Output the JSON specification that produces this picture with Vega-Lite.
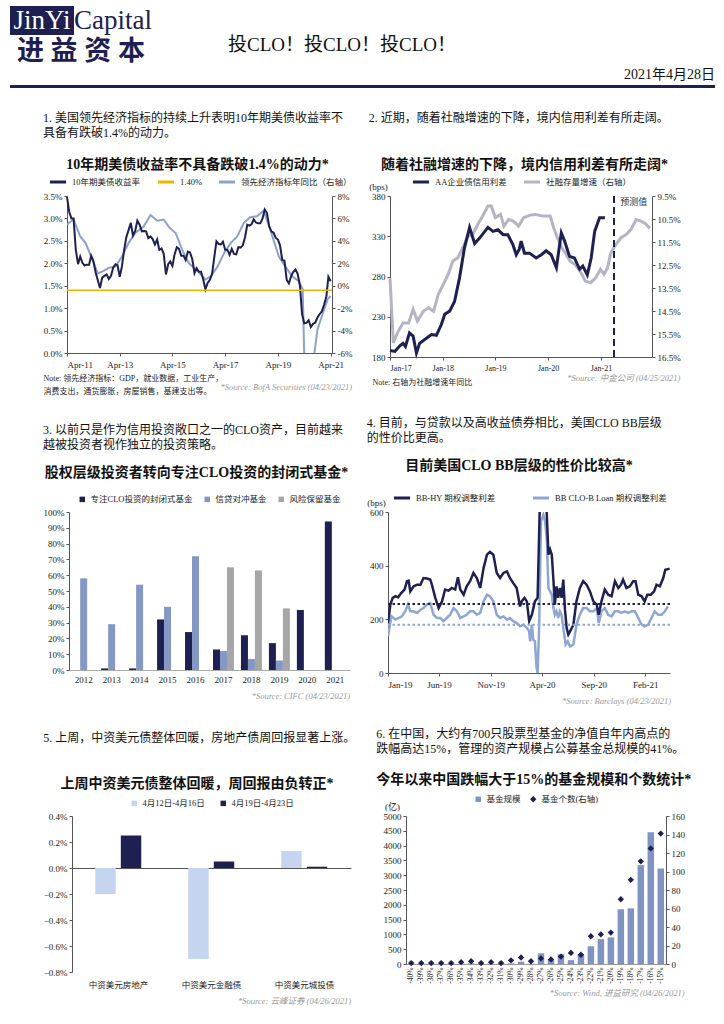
{
"$schema": "https://vega.github.io/schema/vega-lite/v6.json",
"background": "white",
"padding": {"left": 10, "top": 6, "right": 0, "bottom": 0},
"spacing": 24,
"resolve": {"scale": {"color": "independent", "shape": "independent", "xOffset": "independent"}, "legend": {"color": "independent", "shape": "independent"}},
"config": {
  "font": "Liberation Serif, Noto Sans CJK SC",
  "view": {"stroke": null},
  "axis": {"grid": false, "labelFontSize": 9, "labelColor": "#222", "domainColor": "#555", "tickColor": "#555", "tickSize": 3, "labelPadding": 2, "titleFontWeight": "normal", "titleFontSize": 9, "titleColor": "#222"},
  "legend": {"orient": "top", "direction": "horizontal", "labelFontSize": 8.5, "labelColor": "#222", "symbolSize": 45, "columnPadding": 10, "padding": 0, "offset": 8, "layout": {"top": {"anchor": "middle"}}},
  "title": {"color": "#111", "fontWeight": "normal"}
},
"vconcat": [
  {"spacing": 2, "vconcat": [
    {"spacing": 0, "hconcat": [
      {"spacing": 3, "vconcat": [
        {"spacing": 0, "hconcat": [
          {"width": 64, "height": 29, "data": {"values": [{"t": "JinYi"}]}, "layer": [
            {"mark": {"type": "rect", "color": "#1d2050"}, "encoding": {}},
            {"mark": {"type": "text", "color": "white", "fontSize": 27, "font": "Liberation Serif"}, "encoding": {"text": {"field": "t"}}}
          ]},
          {"width": 78, "height": 29, "data": {"values": [{"t": "Capital"}]}, "mark": {"type": "text", "color": "#1d2050", "fontSize": 27, "font": "Liberation Serif"}, "encoding": {"text": {"field": "t"}}}
        ]},
        {"width": 142, "height": 28, "data": {"values": [{"t": "进 益 资 本"}]}, "mark": {"type": "text", "color": "#1d2050", "fontSize": 27, "fontWeight": "bold"}, "encoding": {"text": {"field": "t"}}}
      ]},
      {"width": 380, "height": 60, "data": {"values": [{"t": "投CLO！投CLO！投CLO！"}]}, "mark": {"type": "text", "color": "#111", "fontSize": 19, "baseline": "top"}, "encoding": {"text": {"field": "t"}}}
    ]},
    {"width": 705, "height": 3, "data": {"values": [{}]}, "mark": {"type": "rect", "color": "#1d2050"}, "encoding": {}, "title": {"text": "2021年4月28日", "anchor": "end", "fontSize": 14, "offset": 3}}
  ]},
  {"spacing": 22,
   "resolve": {"scale": {"color": "independent", "shape": "independent", "xOffset": "independent"}, "legend": {"color": "independent", "shape": "independent"}},
   "vconcat": [
  {"spacing": 16,
   "resolve": {"scale": {"color": "independent", "shape": "independent", "xOffset": "independent"}, "legend": {"color": "independent", "shape": "independent"}},
   "hconcat": [
    {"width": 17, "height": 10, "data": {"values": []}, "mark": "point", "encoding": {}},
    {"title": {"text": ["1. 美国领先经济指标的持续上升表明10年期美债收益率不", "具备有跌破1.4%的动力。"], "anchor": "start", "fontSize": 12, "lineHeight": 15, "offset": 18},
     "resolve": {"scale": {"color": "independent"}, "legend": {"color": "independent"}},
     "vconcat": [{
      "title": {"text": "10年期美债收益率不具备跌破1.4%的动力*", "anchor": "middle", "fontSize": 14, "fontWeight": "bold", "offset": 0},
      "resolve": {"scale": {"color": "independent"}, "legend": {"color": "independent"}},
      "vconcat": [{
        "width": 265, "height": 157,
        "title": {"text": "*Source: BofA Securities (04/23/2021)", "orient": "bottom", "anchor": "end", "fontSize": 8.5, "fontStyle": "italic", "color": "#9a9a9a", "offset": -12},
        "resolve": {"scale": {"y": "independent"}},
        "layer": [
          {"data": {"values": [
            {"d":"2011-04-01","v":5.47},{"d":"2011-07-01","v":5.9},{"d":"2011-10-01","v":4.4},{"d":"2011-12-15","v":3.8},{"d":"2012-03-01","v":2.6},{"d":"2012-06-01","v":1.1},{"d":"2012-08-15","v":1.3},{"d":"2012-11-01","v":1.6},{"d":"2013-02-01","v":1.7},{"d":"2013-05-01","v":2.6},{"d":"2013-08-01","v":3.8},{"d":"2013-11-01","v":4.7},{"d":"2014-03-01","v":5.3},{"d":"2014-06-01","v":6.3},{"d":"2014-09-01","v":5.8},{"d":"2014-12-01","v":5.9},{"d":"2015-02-15","v":5.2},{"d":"2015-05-15","v":4.7},{"d":"2015-08-15","v":3.2},{"d":"2015-11-15","v":2.0},{"d":"2016-03-15","v":1.3},{"d":"2016-07-01","v":0.55},{"d":"2016-09-15","v":0.85},{"d":"2016-12-15","v":1.7},{"d":"2017-03-15","v":2.9},{"d":"2017-06-15","v":3.8},{"d":"2017-09-15","v":4.4},{"d":"2017-12-15","v":5.6},{"d":"2018-03-15","v":6.1},{"d":"2018-06-15","v":6.2},{"d":"2018-09-15","v":6.7},{"d":"2018-11-15","v":5.6},{"d":"2019-01-15","v":4.4},{"d":"2019-04-15","v":2.6},{"d":"2019-07-15","v":1.7},{"d":"2019-10-15","v":0.85},{"d":"2020-01-15","v":0.4},{"d":"2020-03-10","v":-0.3},{"d":"2020-04-10","v":-9},{"d":"2020-06-15","v":-10},{"d":"2020-08-15","v":-6.2},{"d":"2020-10-01","v":-3.9},{"d":"2020-12-01","v":-2.7},{"d":"2021-02-20","v":-1.2},{"d":"2021-04-01","v":-0.9}
          ]},
           "mark": {"type": "line", "strokeWidth": 2, "clip": true},
           "encoding": {
             "x": {"field": "d", "type": "temporal"},
             "y": {"field": "v", "type": "quantitative", "scale": {"domain": [-6, 8]}, "axis": {"orient": "right", "values": [-6,-4,-2,0,2,4,6,8], "labelExpr": "datum.value + '%'", "title": null}},
             "color": {"datum": "领先经济指标年同比（右轴）"}
           }},
          {"data": {"values": [
            {"d":"2011-04-01","v":3.48},{"d":"2011-05-01","v":3.15},{"d":"2011-06-01","v":3.0},{"d":"2011-07-01","v":3.0},{"d":"2011-08-01","v":2.3},{"d":"2011-09-01","v":1.98},{"d":"2011-10-01","v":2.15},{"d":"2011-11-01","v":2.01},{"d":"2011-12-01","v":1.95},
            {"d":"2012-01-01","v":1.97},{"d":"2012-02-01","v":1.97},{"d":"2012-03-01","v":2.17},{"d":"2012-04-01","v":2.05},{"d":"2012-05-01","v":1.8},{"d":"2012-06-01","v":1.62},{"d":"2012-07-01","v":1.45},{"d":"2012-08-01","v":1.68},{"d":"2012-09-01","v":1.72},{"d":"2012-10-01","v":1.75},{"d":"2012-11-01","v":1.65},{"d":"2012-12-01","v":1.72},
            {"d":"2013-01-01","v":1.91},{"d":"2013-02-01","v":1.98},{"d":"2013-03-01","v":1.96},{"d":"2013-04-01","v":1.7},{"d":"2013-05-01","v":1.93},{"d":"2013-06-01","v":2.3},{"d":"2013-07-01","v":2.58},{"d":"2013-08-01","v":2.74},{"d":"2013-09-01","v":2.9},{"d":"2013-10-01","v":2.62},{"d":"2013-11-01","v":2.72},{"d":"2013-12-01","v":2.95},
            {"d":"2014-01-01","v":2.86},{"d":"2014-02-01","v":2.71},{"d":"2014-03-01","v":2.72},{"d":"2014-04-01","v":2.71},{"d":"2014-05-01","v":2.56},{"d":"2014-06-01","v":2.6},{"d":"2014-07-01","v":2.54},{"d":"2014-08-01","v":2.42},{"d":"2014-09-01","v":2.53},{"d":"2014-10-01","v":2.3},{"d":"2014-11-01","v":2.33},{"d":"2014-12-01","v":2.21},
            {"d":"2015-01-01","v":1.75},{"d":"2015-02-01","v":1.98},{"d":"2015-03-01","v":2.04},{"d":"2015-04-01","v":1.94},{"d":"2015-05-01","v":2.2},{"d":"2015-06-01","v":2.36},{"d":"2015-07-01","v":2.32},{"d":"2015-08-01","v":2.17},{"d":"2015-09-01","v":2.17},{"d":"2015-10-01","v":2.07},{"d":"2015-11-01","v":2.26},{"d":"2015-12-01","v":2.24},
            {"d":"2016-01-01","v":2.09},{"d":"2016-02-01","v":1.78},{"d":"2016-03-01","v":1.89},{"d":"2016-04-01","v":1.81},{"d":"2016-05-01","v":1.81},{"d":"2016-06-01","v":1.64},{"d":"2016-07-01","v":1.42},{"d":"2016-08-01","v":1.56},{"d":"2016-09-01","v":1.63},{"d":"2016-10-01","v":1.76},{"d":"2016-11-01","v":2.14},{"d":"2016-12-01","v":2.49},
            {"d":"2017-01-01","v":2.43},{"d":"2017-02-01","v":2.42},{"d":"2017-03-01","v":2.48},{"d":"2017-04-01","v":2.3},{"d":"2017-05-01","v":2.3},{"d":"2017-06-01","v":2.19},{"d":"2017-07-01","v":2.32},{"d":"2017-08-01","v":2.21},{"d":"2017-09-01","v":2.2},{"d":"2017-10-01","v":2.36},{"d":"2017-11-01","v":2.35},{"d":"2017-12-01","v":2.4},
            {"d":"2018-01-01","v":2.58},{"d":"2018-02-01","v":2.86},{"d":"2018-03-01","v":2.84},{"d":"2018-04-01","v":2.87},{"d":"2018-05-01","v":2.98},{"d":"2018-06-01","v":2.91},{"d":"2018-07-01","v":2.89},{"d":"2018-08-01","v":2.89},{"d":"2018-09-01","v":3.0},{"d":"2018-10-01","v":3.2},{"d":"2018-11-01","v":3.12},{"d":"2018-12-01","v":2.83},
            {"d":"2019-01-01","v":2.71},{"d":"2019-02-01","v":2.68},{"d":"2019-03-01","v":2.57},{"d":"2019-04-01","v":2.53},{"d":"2019-05-01","v":2.4},{"d":"2019-06-01","v":2.07},{"d":"2019-07-01","v":2.06},{"d":"2019-08-01","v":1.63},{"d":"2019-09-01","v":1.55},{"d":"2019-10-01","v":1.71},{"d":"2019-11-01","v":1.81},{"d":"2019-12-01","v":1.86},
            {"d":"2020-01-01","v":1.76},{"d":"2020-02-01","v":1.5},{"d":"2020-03-01","v":0.87},{"d":"2020-04-01","v":0.66},{"d":"2020-05-01","v":0.67},{"d":"2020-06-01","v":0.73},{"d":"2020-07-01","v":0.58},{"d":"2020-08-01","v":0.65},{"d":"2020-09-01","v":0.68},{"d":"2020-10-01","v":0.79},{"d":"2020-11-01","v":0.87},{"d":"2020-12-01","v":0.93},
            {"d":"2021-01-01","v":1.08},{"d":"2021-02-01","v":1.26},{"d":"2021-03-01","v":1.7},{"d":"2021-04-01","v":1.6}
          ]},
           "mark": {"type": "line", "strokeWidth": 2},
           "encoding": {
             "x": {"field": "d", "type": "temporal", "scale": {"domain": [{"year": 2011, "month": 4, "date": 1}, {"year": 2021, "month": 4, "date": 20}]},
                   "axis": {"values": [{"year": 2011, "month": 4, "date": 1}, {"year": 2013, "month": 4, "date": 1}, {"year": 2015, "month": 4, "date": 1}, {"year": 2017, "month": 4, "date": 1}, {"year": 2019, "month": 4, "date": 1}, {"year": 2021, "month": 4, "date": 1}],
                            "format": "%b-%y", "labelPadding": 4, "title": ["Note: 领先经济指标：GDP，就业数据，工业生产，", "消费支出，通货膨胀，房屋销售，基建支出等。"], "titleX": -24, "titleAlign": "left", "titleAnchor": "start", "titleFontSize": 8, "titleLineHeight": 13, "titlePadding": 5}},
             "y": {"field": "v", "type": "quantitative", "scale": {"domain": [0, 3.5]}, "axis": {"orient": "left", "values": [0, 0.5, 1, 1.5, 2, 2.5, 3, 3.5], "labelExpr": "format(datum.value, '.1f') + '%'", "title": null}},
             "color": {"datum": "10年期美债收益率", "scale": {"domain": ["10年期美债收益率", "1.40%", "领先经济指标年同比（右轴）"], "range": ["#1d2050", "#f0b400", "#8ca2cb"]}, "legend": {"title": null, "symbolType": "stroke", "symbolStrokeWidth": 3, "symbolSize": 260}}
           }},
          {"data": {"values": [{}]}, "mark": {"type": "rule", "strokeWidth": 1.5}, "encoding": {"y": {"datum": 1.4, "scale": {"domain": [0, 3.5]}, "axis": null}, "color": {"datum": "1.40%"}}}
        ]
      }]
     }]
    },
    {"title": {"text": ["2. 近期，随着社融增速的下降，境内信用利差有所走阔。", " "], "anchor": "start", "fontSize": 12, "lineHeight": 15, "offset": 18},
     "resolve": {"scale": {"color": "independent"}, "legend": {"color": "independent"}},
     "vconcat": [{
      "title": {"text": "随着社融增速的下降，境内信用利差有所走阔*", "anchor": "middle", "fontSize": 14, "fontWeight": "bold", "offset": 0},
      "resolve": {"scale": {"color": "independent"}, "legend": {"color": "independent"}},
      "vconcat": [{
        "width": 262, "height": 161,
        "title": {"text": "*Source: 中金公司 (04/25/2021)", "orient": "bottom", "anchor": "end", "fontSize": 8.5, "fontStyle": "italic", "color": "#9a9a9a", "offset": -12},
        "resolve": {"scale": {"y": "independent"}},
        "layer": [
          {"data": {"values": [
            {"d":"2017-01-01","v":13.06},{"d":"2017-01-24","v":15.89},{"d":"2017-02-27","v":15.38},{"d":"2017-04-01","v":15.02},{"d":"2017-05-10","v":15.02},{"d":"2017-06-10","v":14.43},{"d":"2017-07-10","v":14.94},{"d":"2017-08-20","v":14.51},{"d":"2017-09-25","v":14.36},{"d":"2017-10-30","v":14.51},{"d":"2017-12-01","v":13.78},
            {"d":"2018-01-05","v":13.35},{"d":"2018-02-08","v":12.91},{"d":"2018-03-12","v":12.33},{"d":"2018-04-15","v":12.19},{"d":"2018-05-20","v":11.75},{"d":"2018-06-25","v":11.24},{"d":"2018-07-28","v":11.17},{"d":"2018-09-01","v":10.73},{"d":"2018-10-05","v":10.37},{"d":"2018-11-10","v":9.94},{"d":"2018-12-03","v":9.94},
            {"d":"2019-01-01","v":10.44},{"d":"2019-02-05","v":10.3},{"d":"2019-03-01","v":10.81},{"d":"2019-04-03","v":10.52},{"d":"2019-05-05","v":10.59},{"d":"2019-06-10","v":10.81},{"d":"2019-07-15","v":10.44},{"d":"2019-08-30","v":10.33},{"d":"2019-10-05","v":10.3},{"d":"2019-11-20","v":10.37},
            {"d":"2020-01-15","v":10.37},{"d":"2020-02-08","v":10.88},{"d":"2020-03-05","v":11.31},{"d":"2020-04-05","v":11.75},{"d":"2020-04-28","v":11.97},{"d":"2020-06-01","v":12.33},{"d":"2020-07-05","v":12.48},{"d":"2020-08-10","v":12.77},{"d":"2020-09-15","v":13.2},{"d":"2020-10-20","v":13.27},{"d":"2020-11-25","v":13.06},{"d":"2020-12-28","v":12.69},
            {"d":"2021-01-22","v":12.91},{"d":"2021-02-15","v":12.62},{"d":"2021-03-10","v":11.97},{"d":"2021-04-15","v":11.6},{"d":"2021-05-20","v":11.31},{"d":"2021-06-25","v":11.17},{"d":"2021-07-28","v":10.95},{"d":"2021-09-01","v":10.52},{"d":"2021-10-05","v":10.59},{"d":"2021-11-05","v":10.7},{"d":"2021-12-05","v":10.91}
          ]},
           "mark": {"type": "line", "strokeWidth": 3},
           "encoding": {
             "x": {"field": "d", "type": "temporal", "scale": {"domain": [{"year": 2017, "month": 1, "date": 1}, {"year": 2021, "month": 12, "date": 20}]},
                   "axis": {"values": [{"year": 2017, "month": 1, "date": 1}, {"year": 2017, "month": 7, "date": 1}, {"year": 2018, "month": 1, "date": 1}, {"year": 2018, "month": 7, "date": 1}, {"year": 2019, "month": 1, "date": 1}, {"year": 2019, "month": 7, "date": 1}, {"year": 2020, "month": 1, "date": 1}, {"year": 2020, "month": 7, "date": 1}, {"year": 2021, "month": 1, "date": 1}, {"year": 2021, "month": 7, "date": 1}],
                            "format": "%b-%y", "labelPadding": 4, "labelFontSize": 8, "labelOverlap": false, "title": "Note: 右轴为社融增速年同比", "titleX": -18, "titleAlign": "left", "titleAnchor": "start", "titleFontSize": 8, "titlePadding": 6}},
             "y": {"field": "v", "type": "quantitative", "scale": {"domain": [9.5, 16.5], "reverse": true}, "axis": {"orient": "right", "values": [9.5, 10.5, 11.5, 12.5, 13.5, 14.5, 15.5, 16.5], "labelExpr": "format(datum.value, '.1f') + '%'", "title": null}},
             "color": {"datum": "社融存量增速（右轴）", "scale": {"domain": ["AA企业债信用利差", "社融存量增速（右轴）"], "range": ["#1d2050", "#b4b4c4"]}, "legend": {"title": null, "symbolType": "stroke", "symbolStrokeWidth": 3, "symbolSize": 260}}
           }},
          {"data": {"values": [
            {"d":"2017-01-01","v":188},{"d":"2017-02-04","v":187},{"d":"2017-03-10","v":194},{"d":"2017-04-01","v":197},{"d":"2017-04-18","v":193},{"d":"2017-05-16","v":210},{"d":"2017-06-10","v":206},{"d":"2017-07-03","v":185},{"d":"2017-07-25","v":197},{"d":"2017-09-01","v":202},{"d":"2017-10-15","v":208},{"d":"2017-11-18","v":207},{"d":"2017-12-22","v":220},
            {"d":"2018-01-15","v":233},{"d":"2018-02-18","v":237},{"d":"2018-03-24","v":249},{"d":"2018-04-27","v":278},{"d":"2018-06-01","v":316},{"d":"2018-07-06","v":341},{"d":"2018-08-10","v":321},{"d":"2018-09-15","v":328},{"d":"2018-11-10","v":341},{"d":"2018-12-15","v":336},
            {"d":"2019-01-18","v":338},{"d":"2019-02-24","v":332},{"d":"2019-03-28","v":332},{"d":"2019-05-01","v":320},{"d":"2019-05-25","v":307},{"d":"2019-06-15","v":314},{"d":"2019-06-28","v":324},{"d":"2019-07-21","v":309},{"d":"2019-08-25","v":309},{"d":"2019-10-10","v":303},{"d":"2019-11-15","v":307},{"d":"2019-12-18","v":312},
            {"d":"2020-01-22","v":307},{"d":"2020-02-27","v":291},{"d":"2020-04-01","v":334},{"d":"2020-04-24","v":324},{"d":"2020-05-28","v":305},{"d":"2020-07-01","v":303},{"d":"2020-08-06","v":289},{"d":"2020-08-28","v":293},{"d":"2020-09-28","v":282},{"d":"2020-10-25","v":303},{"d":"2020-11-18","v":336},{"d":"2020-12-22","v":353},{"d":"2021-01-28","v":353}
          ]},
           "mark": {"type": "line", "strokeWidth": 3},
           "encoding": {
             "x": {"field": "d", "type": "temporal"},
             "y": {"field": "v", "type": "quantitative", "scale": {"domain": [180, 380]}, "axis": {"orient": "left", "values": [180, 230, 280, 330, 380], "title": "(bps)", "titleAngle": 0, "titleX": -12, "titleY": -5, "titleAlign": "center", "titleBaseline": "bottom", "titleFontSize": 9}},
             "color": {"datum": "AA企业债信用利差"}
           }},
          {"data": {"values": [{}]}, "mark": {"type": "rule", "color": "#1d2050", "strokeWidth": 2, "strokeDash": [7, 4]}, "encoding": {"x": {"datum": {"year": 2021, "month": 4, "date": 1}, "type": "temporal"}}},
          {"data": {"values": [{"t": "预测值"}]}, "mark": {"type": "text", "fontSize": 9, "color": "#333"}, "encoding": {"x": {"datum": {"year": 2021, "month": 8, "date": 15}, "type": "temporal"}, "y": {"datum": 372, "scale": {"domain": [180, 380]}, "axis": null}, "text": {"field": "t"}}}
        ]
      }]
     }]
    }
  ]},
  {"spacing": 16,
   "resolve": {"scale": {"color": "independent", "shape": "independent", "xOffset": "independent"}, "legend": {"color": "independent", "shape": "independent"}},
   "hconcat": [
    {"width": 17, "height": 10, "data": {"values": []}, "mark": "point", "encoding": {}},
    {"title": {"text": ["3. 以前只是作为信用投资敞口之一的CLO资产，目前越来", "越被投资者视作独立的投资策略。"], "anchor": "start", "fontSize": 12, "lineHeight": 15, "offset": 14},
     "resolve": {"scale": {"color": "independent", "xOffset": "independent"}, "legend": {"color": "independent"}},
     "vconcat": [{
      "title": {"text": "股权层级投资者转向专注CLO投资的封闭式基金*", "anchor": "middle", "fontSize": 14, "fontWeight": "bold", "offset": 15},
      "resolve": {"scale": {"color": "independent", "xOffset": "independent"}, "legend": {"color": "independent"}},
      "vconcat": [{
        "width": 281, "height": 158,
        "title": {"text": "*Source: CIFC (04/23/2021)", "orient": "bottom", "anchor": "end", "fontSize": 8.5, "fontStyle": "italic", "color": "#9a9a9a", "offset": 8},
        "data": {"values": [
          {"yr":"2012","s":"专注CLO投资的封闭式基金","v":0},{"yr":"2012","s":"信贷对冲基金","v":58},{"yr":"2012","s":"风险保留基金","v":0},
          {"yr":"2013","s":"专注CLO投资的封闭式基金","v":1},{"yr":"2013","s":"信贷对冲基金","v":29},{"yr":"2013","s":"风险保留基金","v":0},
          {"yr":"2014","s":"专注CLO投资的封闭式基金","v":1},{"yr":"2014","s":"信贷对冲基金","v":54},{"yr":"2014","s":"风险保留基金","v":0},
          {"yr":"2015","s":"专注CLO投资的封闭式基金","v":32},{"yr":"2015","s":"信贷对冲基金","v":40},{"yr":"2015","s":"风险保留基金","v":0},
          {"yr":"2016","s":"专注CLO投资的封闭式基金","v":24},{"yr":"2016","s":"信贷对冲基金","v":72},{"yr":"2016","s":"风险保留基金","v":0},
          {"yr":"2017","s":"专注CLO投资的封闭式基金","v":13},{"yr":"2017","s":"信贷对冲基金","v":12},{"yr":"2017","s":"风险保留基金","v":65},
          {"yr":"2018","s":"专注CLO投资的封闭式基金","v":22},{"yr":"2018","s":"信贷对冲基金","v":7},{"yr":"2018","s":"风险保留基金","v":63},
          {"yr":"2019","s":"专注CLO投资的封闭式基金","v":17},{"yr":"2019","s":"信贷对冲基金","v":6},{"yr":"2019","s":"风险保留基金","v":39},
          {"yr":"2020","s":"专注CLO投资的封闭式基金","v":38},{"yr":"2020","s":"信贷对冲基金","v":0},{"yr":"2020","s":"风险保留基金","v":0},
          {"yr":"2021","s":"专注CLO投资的封闭式基金","v":94},{"yr":"2021","s":"信贷对冲基金","v":0},{"yr":"2021","s":"风险保留基金","v":0}
        ]},
        "mark": {"type": "bar"},
        "encoding": {
          "x": {"field": "yr", "type": "ordinal", "scale": {"paddingInner": 0.25, "paddingOuter": 0.15}, "axis": {"labelAngle": 0, "title": null, "ticks": false, "labelPadding": 5, "domainColor": "#aaa"}},
          "xOffset": {"field": "s", "sort": ["专注CLO投资的封闭式基金", "信贷对冲基金", "风险保留基金"]},
          "y": {"field": "v", "type": "quantitative", "scale": {"domain": [0, 100]}, "axis": {"values": [0,10,20,30,40,50,60,70,80,90,100], "labelExpr": "datum.value + '%'", "title": null}},
          "color": {"field": "s", "type": "nominal", "scale": {"domain": ["专注CLO投资的封闭式基金", "信贷对冲基金", "风险保留基金"], "range": ["#1d2050", "#8497c5", "#a6a6a6"]}, "legend": {"title": null, "symbolType": "square", "symbolSize": 30}}
        }
      }]
     }]
    },
    {"title": {"text": ["4. 目前，与贷款以及高收益债券相比，美国CLO BB层级", "的性价比更高。"], "anchor": "start", "fontSize": 12, "lineHeight": 15, "offset": 14},
     "resolve": {"scale": {"color": "independent"}, "legend": {"color": "independent"}},
     "vconcat": [{
      "title": {"text": "目前美国CLO BB层级的性价比较高*", "anchor": "middle", "fontSize": 14, "fontWeight": "bold", "offset": 15},
      "resolve": {"scale": {"color": "independent"}, "legend": {"color": "independent"}},
      "vconcat": [{
        "width": 282, "height": 161,
        "title": {"text": "*Source: Barclays (04/23/2021)", "orient": "bottom", "anchor": "end", "fontSize": 8.5, "fontStyle": "italic", "color": "#9a9a9a", "offset": 8},
        "layer": [
          {"data": {"values": [
            {"d":"2019-01-01","v":137},{"d":"2019-01-11","v":211},{"d":"2019-01-23","v":199},{"d":"2019-02-02","v":205},{"d":"2019-02-11","v":211},{"d":"2019-02-21","v":230},{"d":"2019-03-01","v":255},{"d":"2019-03-08","v":230},{"d":"2019-03-18","v":230},{"d":"2019-03-28","v":224},{"d":"2019-04-07","v":236},{"d":"2019-04-16","v":242},{"d":"2019-04-26","v":255},{"d":"2019-05-06","v":261},{"d":"2019-05-16","v":217},{"d":"2019-05-26","v":205},{"d":"2019-06-05","v":205},{"d":"2019-06-14","v":193},{"d":"2019-06-24","v":205},{"d":"2019-07-04","v":217},{"d":"2019-07-14","v":242},{"d":"2019-07-24","v":230},{"d":"2019-08-03","v":205},{"d":"2019-08-13","v":211},{"d":"2019-08-22","v":217},{"d":"2019-09-01","v":230},{"d":"2019-09-11","v":230},{"d":"2019-09-21","v":217},{"d":"2019-10-01","v":224},{"d":"2019-10-11","v":267},{"d":"2019-10-21","v":292},{"d":"2019-10-30","v":286},{"d":"2019-11-09","v":267},{"d":"2019-11-19","v":217},{"d":"2019-11-29","v":205},{"d":"2019-12-09","v":211},{"d":"2019-12-19","v":199},{"d":"2019-12-28","v":205},
            {"d":"2020-01-07","v":193},{"d":"2020-01-17","v":186},{"d":"2020-01-27","v":174},{"d":"2020-02-06","v":180},{"d":"2020-02-16","v":168},{"d":"2020-02-23","v":155},{"d":"2020-02-26","v":118},{"d":"2020-03-02","v":180},{"d":"2020-03-06","v":124},{"d":"2020-03-11","v":118},{"d":"2020-03-16","v":19},{"d":"2020-03-19","v":0},{"d":"2020-03-24","v":193},{"d":"2020-03-29","v":565},{"d":"2020-04-05","v":590},{"d":"2020-04-10","v":565},{"d":"2020-04-15","v":503},{"d":"2020-04-20","v":317},{"d":"2020-04-25","v":304},{"d":"2020-04-30","v":292},{"d":"2020-05-05","v":242},{"d":"2020-05-09","v":217},{"d":"2020-05-14","v":230},{"d":"2020-05-19","v":205},{"d":"2020-05-24","v":230},{"d":"2020-05-29","v":217},{"d":"2020-06-03","v":168},{"d":"2020-06-10","v":106},{"d":"2020-06-16","v":118},{"d":"2020-06-23","v":99},{"d":"2020-07-03","v":106},{"d":"2020-07-12","v":180},{"d":"2020-07-22","v":217},{"d":"2020-08-01","v":242},{"d":"2020-08-11","v":242},{"d":"2020-08-21","v":230},{"d":"2020-08-31","v":230},{"d":"2020-09-10","v":242},{"d":"2020-09-16","v":186},{"d":"2020-09-24","v":230},{"d":"2020-10-04","v":242},{"d":"2020-10-14","v":217},{"d":"2020-10-24","v":211},{"d":"2020-11-03","v":230},{"d":"2020-11-13","v":230},{"d":"2020-11-22","v":224},{"d":"2020-12-02","v":230},{"d":"2020-12-12","v":224},{"d":"2020-12-22","v":230},
            {"d":"2021-01-01","v":230},{"d":"2021-01-11","v":205},{"d":"2021-01-21","v":180},{"d":"2021-01-30","v":174},{"d":"2021-02-09","v":180},{"d":"2021-02-19","v":205},{"d":"2021-03-01","v":230},{"d":"2021-03-11","v":217},{"d":"2021-03-21","v":217},{"d":"2021-03-31","v":230},{"d":"2021-04-09","v":248}
          ]},
           "mark": {"type": "line", "strokeWidth": 2.5, "clip": true},
           "encoding": {
             "x": {"field": "d", "type": "temporal", "scale": {"domain": [{"year": 2019, "month": 1, "date": 1}, {"year": 2021, "month": 4, "date": 15}]},
                   "axis": {"values": [{"year": 2019, "month": 1, "date": 1}, {"year": 2019, "month": 6, "date": 1}, {"year": 2019, "month": 11, "date": 1}, {"year": 2020, "month": 4, "date": 1}, {"year": 2020, "month": 9, "date": 1}, {"year": 2021, "month": 2, "date": 1}], "format": "%b-%y", "labelPadding": 4, "title": null}},
             "y": {"field": "v", "type": "quantitative", "scale": {"domain": [0, 600]}, "axis": {"values": [0, 100, 200, 300, 400, 500, 600], "title": "(bps)", "titleAngle": 0, "titleX": -12, "titleY": -5, "titleAlign": "center", "titleBaseline": "bottom", "titleFontSize": 9}},
             "color": {"datum": "BB CLO-B Loan 期权调整利差", "scale": {"domain": ["BB-HY 期权调整利差", "BB CLO-B Loan 期权调整利差"], "range": ["#1d2050", "#8ea6d3"]}, "legend": {"title": null, "symbolType": "stroke", "symbolStrokeWidth": 3, "symbolSize": 260, "columnPadding": 30, "offset": 8}}
           }},
          {"data": {"values": [
            {"d":"2019-01-01","v":186},{"d":"2019-01-08","v":255},{"d":"2019-01-15","v":280},{"d":"2019-01-23","v":286},{"d":"2019-01-31","v":282},{"d":"2019-02-09","v":298},{"d":"2019-02-19","v":311},{"d":"2019-02-26","v":342},{"d":"2019-03-03","v":344},{"d":"2019-03-08","v":304},{"d":"2019-03-18","v":323},{"d":"2019-03-28","v":329},{"d":"2019-04-07","v":329},{"d":"2019-04-16","v":354},{"d":"2019-04-26","v":352},{"d":"2019-05-06","v":348},{"d":"2019-05-11","v":329},{"d":"2019-05-21","v":280},{"d":"2019-05-31","v":242},{"d":"2019-06-10","v":267},{"d":"2019-06-19","v":311},{"d":"2019-06-29","v":307},{"d":"2019-07-09","v":317},{"d":"2019-07-19","v":311},{"d":"2019-07-27","v":357},{"d":"2019-08-03","v":311},{"d":"2019-08-13","v":292},{"d":"2019-08-22","v":323},{"d":"2019-09-01","v":342},{"d":"2019-09-11","v":373},{"d":"2019-09-21","v":354},{"d":"2019-10-01","v":317},{"d":"2019-10-11","v":391},{"d":"2019-10-21","v":441},{"d":"2019-10-30","v":451},{"d":"2019-11-09","v":441},{"d":"2019-11-19","v":373},{"d":"2019-11-29","v":354},{"d":"2019-12-09","v":373},{"d":"2019-12-19","v":379},{"d":"2019-12-28","v":354},
            {"d":"2020-01-07","v":335},{"d":"2020-01-17","v":317},{"d":"2020-01-27","v":248},{"d":"2020-02-01","v":267},{"d":"2020-02-09","v":280},{"d":"2020-02-16","v":267},{"d":"2020-02-23","v":193},{"d":"2020-03-02","v":217},{"d":"2020-03-11","v":267},{"d":"2020-03-19","v":280},{"d":"2020-03-26","v":650},{"d":"2020-03-31","v":680},{"d":"2020-04-08","v":660},{"d":"2020-04-15","v":596},{"d":"2020-04-20","v":441},{"d":"2020-04-25","v":460},{"d":"2020-04-30","v":441},{"d":"2020-05-05","v":342},{"d":"2020-05-09","v":255},{"d":"2020-05-14","v":323},{"d":"2020-05-19","v":280},{"d":"2020-05-24","v":317},{"d":"2020-05-29","v":280},{"d":"2020-06-03","v":348},{"d":"2020-06-08","v":236},{"d":"2020-06-13","v":168},{"d":"2020-06-18","v":143},{"d":"2020-06-23","v":155},{"d":"2020-07-03","v":180},{"d":"2020-07-12","v":267},{"d":"2020-07-22","v":317},{"d":"2020-08-01","v":342},{"d":"2020-08-11","v":329},{"d":"2020-08-21","v":304},{"d":"2020-08-31","v":267},{"d":"2020-09-10","v":255},{"d":"2020-09-16","v":217},{"d":"2020-09-24","v":267},{"d":"2020-10-04","v":311},{"d":"2020-10-14","v":292},{"d":"2020-10-24","v":286},{"d":"2020-11-03","v":342},{"d":"2020-11-13","v":317},{"d":"2020-11-21","v":329},{"d":"2020-11-27","v":348},{"d":"2020-12-07","v":317},{"d":"2020-12-17","v":323},{"d":"2020-12-27","v":342},
            {"d":"2021-01-03","v":342},{"d":"2021-01-11","v":292},{"d":"2021-01-21","v":286},{"d":"2021-01-30","v":267},{"d":"2021-02-07","v":292},{"d":"2021-02-17","v":292},{"d":"2021-02-27","v":304},{"d":"2021-03-06","v":329},{"d":"2021-03-16","v":323},{"d":"2021-03-26","v":354},{"d":"2021-04-01","v":385},{"d":"2021-04-14","v":389}
          ]},
           "mark": {"type": "line", "strokeWidth": 2.5, "clip": true},
           "encoding": {
             "x": {"field": "d", "type": "temporal"},
             "y": {"field": "v", "type": "quantitative"},
             "color": {"datum": "BB-HY 期权调整利差"}
           }},
          {"data": {"values": [{}]}, "mark": {"type": "rule", "color": "#1d2050", "strokeWidth": 2, "strokeDash": [2.5, 2.5]}, "encoding": {"y": {"datum": 257}}},
          {"data": {"values": [{}]}, "mark": {"type": "rule", "color": "#8ea6d3", "strokeWidth": 2, "strokeDash": [2.5, 2.5]}, "encoding": {"y": {"datum": 180}}}
        ]
      }]
     }]
    }
  ]},
  {"spacing": 20,
   "resolve": {"scale": {"color": "independent", "shape": "independent", "xOffset": "independent"}, "legend": {"color": "independent", "shape": "independent"}},
   "hconcat": [
    {"width": 13, "height": 10, "data": {"values": []}, "mark": "point", "encoding": {}},
    {"title": {"text": ["5. 上周，中资美元债整体回暖，房地产债周回报显著上涨。", " "], "anchor": "start", "fontSize": 12, "lineHeight": 15, "offset": 17},
     "resolve": {"scale": {"color": "independent", "xOffset": "independent"}, "legend": {"color": "independent"}},
     "vconcat": [{
      "title": {"text": "上周中资美元债整体回暖，周回报由负转正*", "anchor": "middle", "fontSize": 14, "fontWeight": "bold", "offset": 8},
      "resolve": {"scale": {"color": "independent", "xOffset": "independent"}, "legend": {"color": "independent"}},
      "vconcat": [{
        "width": 279, "height": 156,
        "title": {"text": "*Source: 云峰证券 (04/26/2021)", "orient": "bottom", "anchor": "end", "fontSize": 8.5, "fontStyle": "italic", "color": "#9a9a9a", "offset": 8},
        "data": {"values": [
          {"c":"中资美元房地产","s":"4月12日-4月16日","v":-0.2},{"c":"中资美元房地产","s":"4月19日-4月23日","v":0.25},
          {"c":"中资美元金融债","s":"4月12日-4月16日","v":-0.7},{"c":"中资美元金融债","s":"4月19日-4月23日","v":0.05},
          {"c":"中资美元城投债","s":"4月12日-4月16日","v":0.13},{"c":"中资美元城投债","s":"4月19日-4月23日","v":0.01}
        ]},
        "mark": {"type": "bar"},
        "encoding": {
          "x": {"field": "c", "type": "nominal", "sort": ["中资美元房地产", "中资美元金融债", "中资美元城投债"], "scale": {"paddingInner": 0.5, "paddingOuter": 0.25}, "axis": {"labelAngle": 0, "title": null, "domain": false, "ticks": false, "labelPadding": 8, "labelFontSize": 8.5}},
          "xOffset": {"field": "s", "type": "nominal", "sort": ["4月12日-4月16日", "4月19日-4月23日"], "scale": {"range": [0, 46], "paddingInner": 0.2, "paddingOuter": 0}},
          "y": {"field": "v", "type": "quantitative", "scale": {"domain": [-0.8, 0.4]}, "axis": {"values": [-0.8, -0.6, -0.4, -0.2, 0, 0.2, 0.4], "labelExpr": "format(datum.value, '.1f') + '%'", "title": null, "grid": true, "gridColor": {"condition": {"test": "datum.value === 0", "value": "#555"}, "value": "transparent"}}},
          "color": {"field": "s", "type": "nominal", "scale": {"domain": ["4月12日-4月16日", "4月19日-4月23日"], "range": ["#c6d5ef", "#1d2050"]}, "legend": {"title": null, "symbolType": "square", "symbolSize": 30, "columnPadding": 14}}
        }
      }]
     }]
    },
    {"title": {"text": ["6. 在中国，大约有700只股票型基金的净值自年内高点的", "跌幅高达15%，管理的资产规模占公募基金总规模的41%。"], "anchor": "start", "fontSize": 12, "lineHeight": 15, "offset": 17},
     "resolve": {"scale": {"color": "independent", "shape": "independent"}, "legend": {"color": "independent", "shape": "independent"}},
     "vconcat": [{
      "title": {"text": "今年以来中国跌幅大于15%的基金规模和个数统计*", "anchor": "middle", "fontSize": 14, "fontWeight": "bold", "offset": 8},
      "resolve": {"scale": {"color": "independent", "shape": "independent"}, "legend": {"color": "independent", "shape": "independent"}},
      "vconcat": [{
        "width": 260, "height": 148,
        "title": {"text": "*Source: Wind, 进益研究 (04/26/2021)", "orient": "bottom", "anchor": "end", "fontSize": 8.5, "fontStyle": "italic", "color": "#9a9a9a", "offset": 6},
        "resolve": {"scale": {"y": "independent"}},
        "data": {"values": [
          {"c":"-40%","amt":5,"n":1},{"c":"-39%","amt":5,"n":1},{"c":"-38%","amt":5,"n":1},{"c":"-37%","amt":5,"n":1},{"c":"-36%","amt":5,"n":1},{"c":"-35%","amt":10,"n":2},{"c":"-34%","amt":20,"n":3},{"c":"-33%","amt":5,"n":1},{"c":"-32%","amt":10,"n":2},{"c":"-31%","amt":5,"n":1},{"c":"-30%","amt":20,"n":4},{"c":"-29%","amt":80,"n":7},{"c":"-28%","amt":10,"n":3},{"c":"-27%","amt":360,"n":6},{"c":"-26%","amt":160,"n":5},{"c":"-25%","amt":330,"n":8},{"c":"-24%","amt":130,"n":12},{"c":"-23%","amt":340,"n":10},{"c":"-22%","amt":600,"n":30},{"c":"-21%","amt":840,"n":32},{"c":"-20%","amt":900,"n":34},{"c":"-19%","amt":1850,"n":70},{"c":"-18%","amt":1880,"n":91},{"c":"-17%","amt":3340,"n":111},{"c":"-16%","amt":4450,"n":125},{"c":"-15%","amt":3230,"n":141}
        ]},
        "layer": [
          {"mark": {"type": "bar"},
           "encoding": {
             "x": {"field": "c", "type": "ordinal", "sort": null, "scale": {"paddingInner": 0.35, "paddingOuter": 0.2}, "axis": {"labelAngle": -90, "title": null, "ticks": false, "labelFontSize": 7.5, "labelPadding": 3, "domainColor": "#999"}},
             "y": {"field": "amt", "type": "quantitative", "scale": {"domain": [0, 5000]}, "axis": {"values": [0,500,1000,1500,2000,2500,3000,3500,4000,4500,5000], "format": "d", "title": "(亿)", "titleAngle": 0, "titleX": -14, "titleY": -5, "titleAlign": "center", "titleBaseline": "bottom", "titleFontSize": 9}},
             "color": {"datum": "基金规模", "scale": {"range": ["#8094c2"]}, "legend": {"title": null, "symbolType": "square", "symbolSize": 30, "offset": 10}}
           }},
          {"mark": {"type": "point", "filled": true, "color": "#1d2050", "size": 40, "opacity": 1},
           "encoding": {
             "x": {"field": "c", "type": "ordinal", "sort": null},
             "y": {"field": "n", "type": "quantitative", "scale": {"domain": [0, 160]}, "axis": {"orient": "right", "values": [0,20,40,60,80,100,120,140,160], "title": null}},
             "shape": {"datum": "基金个数(右轴)", "scale": {"range": ["diamond"]}, "legend": {"title": null, "symbolSize": 40, "offset": 10}}
           }}
        ]
      }]
     }]
    }
  ]}
  ]}
]
}
